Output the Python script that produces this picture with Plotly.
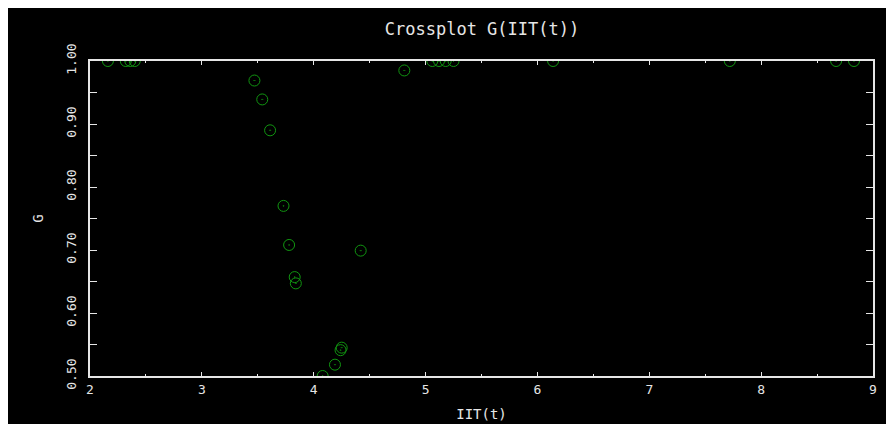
import plotly.graph_objects as go

# Data
iit = [2.16, 2.32, 2.36, 2.40, 3.47, 3.54, 3.61, 3.73, 3.78, 3.83, 3.84,
       4.08, 4.19, 4.24, 4.25, 4.42, 4.81, 5.06, 5.12, 5.18, 5.25,
       6.14, 7.72, 8.67, 8.83]
g = [1.0, 1.0, 1.0, 1.0, 0.969, 0.939, 0.890, 0.770, 0.708, 0.657, 0.647,
     0.500, 0.518, 0.541, 0.545, 0.699, 0.985, 1.0, 1.0, 1.0, 1.0,
     1.0, 1.0, 1.0, 1.0]

x_ticks = [2, 3, 4, 5, 6, 7, 8, 9]
y_ticks = [0.5, 0.6, 0.7, 0.8, 0.9, 1.0]

W, H = 894, 424
# page offset of ~8px comes from the default body margin
L, R, T, B = 82, 29, 53, 54

FONT = "DejaVu Sans Mono"
FG = "#e6e6e6"
GREEN = "#119611"

fig = go.Figure()
fig.add_trace(go.Scatter(
    x=iit, y=g, mode="markers",
    marker=dict(symbol="circle-open-dot", size=11, color=GREEN,
                line=dict(width=1, color=GREEN)),
    cliponaxis=True, showlegend=False,
))

fig.update_layout(
    width=W, height=H,
    margin=dict(l=L, r=R, t=T, b=B, pad=0),
    paper_bgcolor="black", plot_bgcolor="black",
    title=dict(text="Crossplot G(IIT(t))", x=474 / W, xanchor="center",
               y=1 - 21 / H, yanchor="middle",
               font=dict(family=FONT, size=17, color=FG)),
    xaxis=dict(
        range=[2, 9], tickvals=x_ticks, ticktext=[str(v) for v in x_ticks],
        showgrid=False, zeroline=False,
        showline=True, linecolor=FG, linewidth=2, mirror="allticks",
        ticks="inside", ticklen=4, tickwidth=1, tickcolor=FG,
        minor=dict(dtick=0.5, ticks="inside", ticklen=2, tickcolor=FG,
                   showgrid=False),
        tickfont=dict(family=FONT, size=13, color=FG),
        title=dict(text="IIT(t)", standoff=14,
                   font=dict(family=FONT, size=14, color=FG)),
    ),
    yaxis=dict(
        range=[0.5, 1.0], tickvals=y_ticks, tickformat=".2f",
        showgrid=False, zeroline=False,
        showline=True, linecolor=FG, linewidth=2, mirror="allticks",
        ticks="inside", ticklen=7, tickwidth=1, tickcolor=FG,
        minor=dict(dtick=0.05, ticks="inside", ticklen=7, tickcolor=FG,
                   showgrid=False),
        tickangle=-90, ticklabelstandoff=7,
        tickfont=dict(family=FONT, size=13, color=FG),
        title=dict(text="G", standoff=17,
                   font=dict(family=FONT, size=14, color=FG)),
    ),
)

fig.write_html("out.html")
